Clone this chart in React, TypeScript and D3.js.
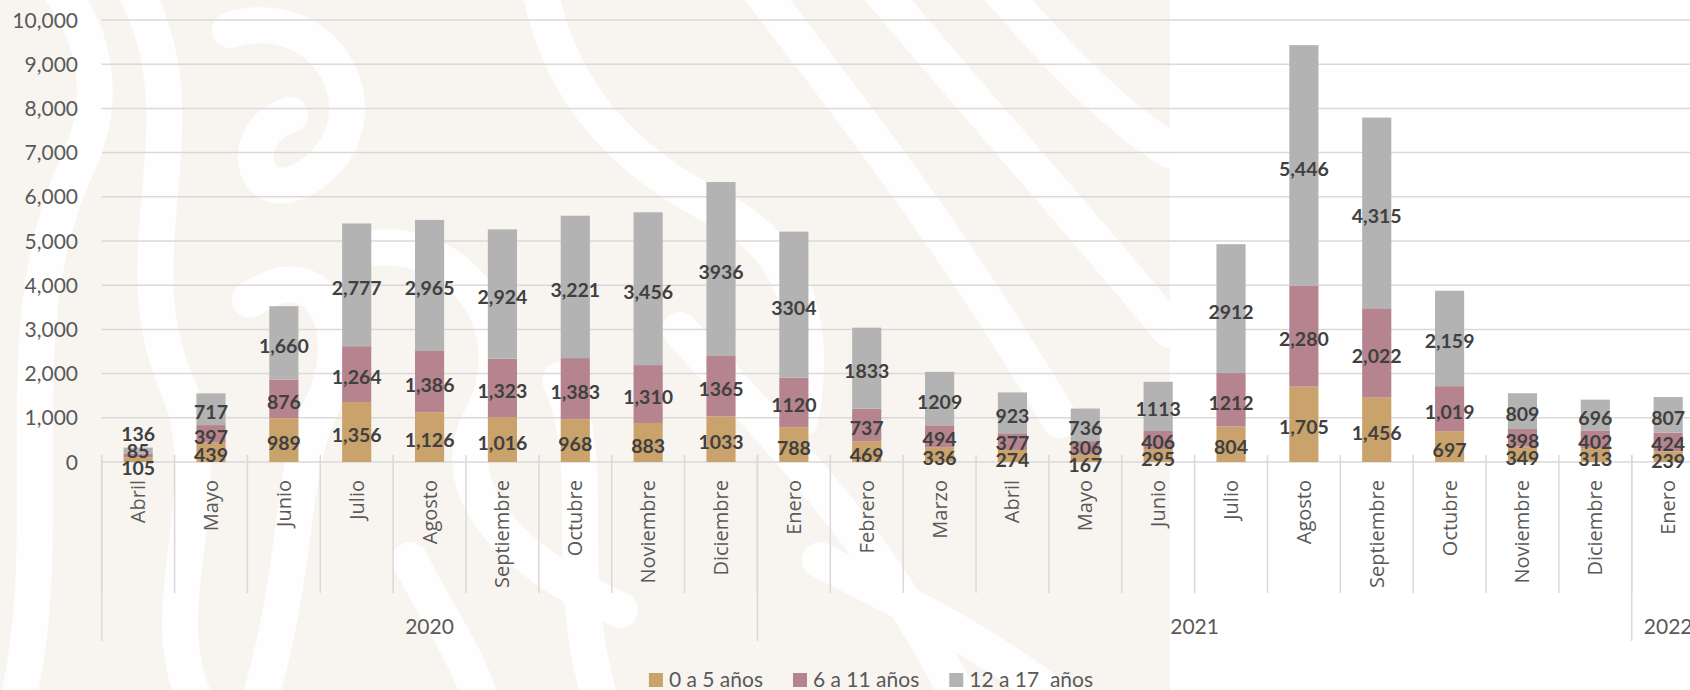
import React, { useEffect, useRef } from 'react';
import * as d3 from 'd3';

// ---------- DATA ----------
const months = ['Abril', 'Mayo', 'Junio', 'Julio', 'Agosto', 'Septiembre', 'Octubre', 'Noviembre', 'Diciembre',
  'Enero', 'Febrero', 'Marzo', 'Abril', 'Mayo', 'Junio', 'Julio', 'Agosto', 'Septiembre', 'Octubre', 'Noviembre', 'Diciembre',
  'Enero'];
const years = ['2020', '2021', '2022'];
const monthsPerYear = [9, 12, 1];
const age0to5 = [105, 439, 989, 1356, 1126, 1016, 968, 883, 1033, 788, 469, 336, 274, 167, 295, 804, 1705, 1456, 697, 349, 313, 239];
const age6to11 = [85, 397, 876, 1264, 1386, 1323, 1383, 1310, 1365, 1120, 737, 494, 377, 306, 406, 1212, 2280, 2022, 1019, 398, 402, 424];
const age12to17 = [136, 717, 1660, 2777, 2965, 2924, 3221, 3456, 3936, 3304, 1833, 1209, 923, 736, 1113, 2912, 5446, 4315, 2159, 809, 696, 807];
const thousandsSep = [false, false, true, true, true, true, true, true, false, false, false, false, false, false, false, false, true, true, true, false, false, false];
const seriesNames = ['0 a 5 años', '6 a 11 años', '12 a 17  años'];
const yTicks = [0, 1000, 2000, 3000, 4000, 5000, 6000, 7000, 8000, 9000, 10000];

const COLORS = ['#C9A36B', '#B6848E', '#B3B3B3'];
const W = 1690, H = 690;

function spread(ys: number[], gap: number, maxY: number) {
  const y = ys.slice();
  for (let it = 0; it < 100; it++) {
    let moved = false;
    for (let i = 0; i < y.length - 1; i++) {
      const d = y[i] - y[i + 1];
      if (d < gap - 0.01) {
        const s = (gap - d) / 2;
        y[i] += s; y[i + 1] -= s; moved = true;
      }
    }
    if (!moved) break;
  }
  if (y[0] > maxY) {
    const s = y[0] - maxY;
    for (let k = 0; k < y.length; k++) y[k] -= s;
  }
  return y;
}

export default function App() {
  const ref = useRef<SVGSVGElement | null>(null);

  useEffect(() => {
    const svg = d3.select(ref.current);
    svg.selectAll('*').remove();

    // background watermark
    const bg = svg.append('g');
    bg.append('rect').attr('x', 0).attr('y', 0).attr('width', W).attr('height', H).attr('fill', '#ffffff');
    bg.append('rect').attr('x', 0).attr('y', 0).attr('width', 1170).attr('height', H).attr('fill', '#F8F5F0');
    const swirls = [
      'M 18 700 C 60 520, 0 320, 80 160 C 110 90, 90 30, 60 -10',
      'M 135 -10 C 205 120, 120 250, 175 380 C 225 490, 150 600, 195 700',
      'M 230 30 C 330 0, 390 120, 310 175 C 250 215, 235 130, 290 115',
      'M 250 300 C 320 250, 360 330, 320 410 C 290 470, 300 560, 260 700',
      'M 360 250 C 460 230, 530 330, 480 420 C 440 500, 530 570, 620 610',
      'M 540 -10 C 560 90, 620 160, 720 210 C 790 245, 820 320, 800 420',
      'M 560 380 C 600 470, 560 560, 600 700',
      'M 760 -10 C 860 120, 960 250, 1060 420',
      'M 880 -10 C 980 110, 1080 220, 1170 330',
      'M 680 330 C 780 440, 880 540, 960 700',
      'M 1000 -10 C 1060 60, 1120 120, 1170 150',
      'M 820 560 C 900 600, 980 640, 1060 700',
      'M 410 560 C 440 620, 470 660, 480 700'
    ];
    bg.selectAll('path.sw').data(swirls).enter().append('path')
      .attr('d', d => d).attr('fill', 'none').attr('stroke', '#ffffff')
      .attr('stroke-width', 36).attr('stroke-linecap', 'round').attr('opacity', 0.9);

    const x0 = 101.7, x1 = 1704.6;
    const idx = months.map((_, i) => String(i));
    const x = d3.scaleBand<string>().domain(idx).range([x0, x1]).paddingInner(0.6).paddingOuter(0.3);
    const step = x.step();
    const y = d3.scaleLinear().domain([0, 10000]).range([462, 20]);

    const gridColor = '#D9D9D9';
    const textColor = '#595959';

    // gridlines
    svg.append('g').selectAll('line').data(yTicks).enter().append('line')
      .attr('x1', x0).attr('x2', W + 20)
      .attr('y1', d => y(d)).attr('y2', d => y(d))
      .attr('stroke', gridColor).attr('stroke-width', 1.5);

    // y tick labels
    svg.append('g').selectAll('text').data(yTicks).enter().append('text')
      .attr('x', 78).attr('y', d => y(d)).attr('dy', '0.36em')
      .attr('text-anchor', 'end')
      .attr('font-family', 'Lato, sans-serif').attr('font-size', 21)
      .attr('fill', textColor)
      .text(d => d3.format(',')(d));

    // bars
    const series = [age0to5, age6to11, age12to17];
    const rows = months.map((m, i) => ({ i: String(i), a: age0to5[i], b: age6to11[i], c: age12to17[i] }));
    const stack = d3.stack<any>().keys(['a', 'b', 'c'])(rows);
    const barsG = svg.append('g');
    stack.forEach((layer, si) => {
      barsG.selectAll('rect.s' + si).data(layer).enter().append('rect')
        .attr('x', (d: any) => x(d.data.i) as number)
        .attr('width', x.bandwidth())
        .attr('y', (d: any) => y(d[1]))
        .attr('height', (d: any) => y(d[0]) - y(d[1]))
        .attr('fill', COLORS[si]);
    });

    // month separators & year separators
    const sepG = svg.append('g');
    for (let k = 0; k <= months.length; k++) {
      sepG.append('line')
        .attr('x1', x0 + k * step).attr('x2', x0 + k * step)
        .attr('y1', 455).attr('y2', 593)
        .attr('stroke', gridColor).attr('stroke-width', 1.5);
    }
    let cum = 0;
    const yearBounds: number[] = [0];
    monthsPerYear.forEach(n => { cum += n; yearBounds.push(cum); });
    yearBounds.forEach(b => {
      sepG.append('line')
        .attr('x1', x0 + b * step).attr('x2', x0 + b * step)
        .attr('y1', 455).attr('y2', 641)
        .attr('stroke', gridColor).attr('stroke-width', 1.5);
    });

    // month labels
    svg.append('g').selectAll('text').data(months).enter().append('text')
      .attr('transform', (d, i) => `translate(${(x(String(i)) as number) + x.bandwidth() / 2 + 7},480) rotate(-90)`)
      .attr('text-anchor', 'end')
      .attr('font-family', '"Open Sans", sans-serif').attr('font-size', 20)
      .attr('fill', textColor)
      .text(d => d);

    // year labels
    years.forEach((yr, k) => {
      const cx = x0 + ((yearBounds[k] + yearBounds[k + 1]) / 2) * step;
      svg.append('text')
        .attr('x', cx).attr('y', 634)
        .attr('text-anchor', 'middle')
        .attr('font-family', 'Lato, sans-serif').attr('font-size', 21)
        .attr('fill', textColor)
        .text(yr);
    });

    // data labels
    const labG = svg.append('g');
    months.forEach((_, i) => {
      const ys = stack.map(layer => (y(layer[i][0]) + y(layer[i][1])) / 2 + 3);
      const adj = spread(ys, 17, 468);
      const fmt = thousandsSep[i] ? d3.format(',') : d3.format('d');
      series.forEach((s, si) => {
        labG.append('text')
          .attr('x', (x(String(i)) as number) + x.bandwidth() / 2)
          .attr('y', adj[si]).attr('dy', '0.36em')
          .attr('text-anchor', 'middle')
          .attr('font-family', 'Lato, sans-serif').attr('font-weight', 700).attr('font-size', 19.5)
          .attr('fill', '#404040')
          .text(fmt(s[i]));
      });
    });

    // legend
    const legG = svg.append('g');
    const items: { g: any; w: number }[] = [];
    seriesNames.forEach((name, si) => {
      const g = legG.append('g');
      g.append('rect').attr('x', 0).attr('y', 673).attr('width', 14).attr('height', 14).attr('fill', COLORS[si]);
      const t = g.append('text').attr('x', 20).attr('y', 687)
        .attr('font-family', 'Lato, sans-serif').attr('font-size', 21)
        .attr('fill', textColor).style('white-space', 'pre')
        .text(name);
      const tw = (t.node() as SVGTextElement).getComputedTextLength();
      items.push({ g, w: 20 + tw });
    });
    const gap = 30;
    const total = items.reduce((a, it) => a + it.w, 0) + gap * (items.length - 1);
    let lx = 871 - total / 2;
    items.forEach(it => {
      it.g.attr('transform', `translate(${lx},0)`);
      lx += it.w + gap;
    });
  }, []);

  return (
    <svg ref={ref} width={W} height={H} style={{ position: 'absolute', left: 0, top: 0, display: 'block' }} />
  );
}
